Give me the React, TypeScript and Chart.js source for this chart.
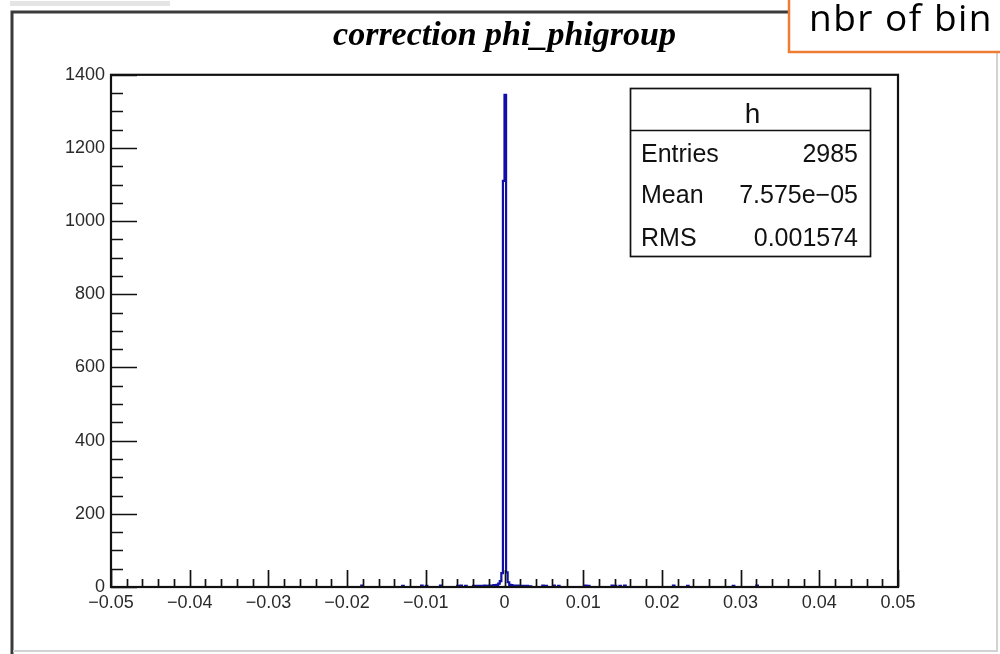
import React, { useEffect, useRef } from "react";
import { Chart, registerables } from "chart.js";

Chart.register(...registerables);

// ---------- data ----------
const chartTitle = "correction phi_phigroup";
const statsName = "h";
const statsLabels = ["Entries", "Mean", "RMS"];
const statsValues = ["2985", "7.575e\u221205", "0.001574"];
const noteText = "nbr of bin";

const binWidth = 0.0002;
const binLowEdges = [
  -0.0182, -0.013, -0.0106, -0.01, -0.0082, -0.006, -0.0056, -0.005,
  -0.004, -0.0038, -0.0036, -0.0034, -0.0032, -0.003, -0.0028, -0.0026, -0.0024, -0.0022,
  -0.002, -0.0018, -0.0016, -0.0014, -0.0012, -0.001, -0.0008, -0.0006, -0.0004, -0.0002,
  0.0, 0.0002, 0.0004, 0.0006, 0.0008, 0.001, 0.0012, 0.0014, 0.0016, 0.0018, 0.002,
  0.0022, 0.0024, 0.0026, 0.0028, 0.003, 0.0032,
  0.0048, 0.0052, 0.0062, 0.0068, 0.0102, 0.0106, 0.0136, 0.014, 0.0146, 0.0152,
  0.0214, 0.0232, 0.029, 0.032,
];
const binCounts = [
  4, 3, 4, 3, 4, 3, 4, 3,
  3, 2, 3, 2, 3, 2, 3, 4, 2, 3,
  4, 3, 4, 5, 5, 6, 9, 16, 38, 1110,
  1345, 40, 13, 6, 5, 4, 4, 3, 4, 3, 3,
  2, 3, 2, 3, 2, 2,
  4, 3, 4, 3, 4, 3, 4, 3, 3, 4,
  4, 3, 3, 4,
];

const xTickValues = [-0.05, -0.04, -0.03, -0.02, -0.01, 0, 0.01, 0.02, 0.03, 0.04, 0.05];
const xTickLabels = ["\u22120.05", "\u22120.04", "\u22120.03", "\u22120.02", "\u22120.01", "0", "0.01", "0.02", "0.03", "0.04", "0.05"];
const yTickValues = [0, 200, 400, 600, 800, 1000, 1200, 1400];
const yTickLabels = ["0", "200", "400", "600", "800", "1000", "1200", "1400"];

const xMinorStep = 0.002;
const yMinorStep = 50;

// ---------- helpers ----------
function histogramPoints() {
  const xMin = xTickValues[0];
  const xMax = xTickValues[xTickValues.length - 1];
  const pts: { x: number; y: number }[] = [{ x: xMin, y: 0 }];
  for (let i = 0; i < binLowEdges.length; i++) {
    const lo = binLowEdges[i];
    const hi = lo + binWidth;
    pts.push({ x: lo, y: binCounts[i] });
    const next = binLowEdges[i + 1];
    if (next === undefined || Math.abs(next - hi) > binWidth / 10) pts.push({ x: hi, y: 0 });
  }
  pts.push({ x: xMax, y: 0 });
  return pts;
}

const SANS = "'Liberation Sans', Arial, Helvetica, sans-serif";

const framePlugin = {
  id: "rootFrame",
  afterDatasetsDraw(chart: any) {
    const { ctx, chartArea: a, scales } = chart;
    const xs = scales.x;
    const ys = scales.y;
    ctx.save();
    ctx.strokeStyle = "#111";
    ctx.lineWidth = 1.7;
    ctx.beginPath();
    const xMin = xTickValues[0];
    const xMax = xTickValues[xTickValues.length - 1];
    const nx = Math.round((xMax - xMin) / xMinorStep);
    for (let k = 0; k <= nx; k++) {
      const v = xMin + k * xMinorStep;
      const px = Math.round(xs.getPixelForValue(v)) + 0.5;
      const len = k % 5 === 0 ? 17 : 8;
      ctx.moveTo(px, a.bottom);
      ctx.lineTo(px, a.bottom - len);
    }
    const yMax = yTickValues[yTickValues.length - 1];
    const ny = Math.round(yMax / yMinorStep);
    for (let k = 0; k <= ny; k++) {
      const v = k * yMinorStep;
      const py = Math.round(ys.getPixelForValue(v)) + 0.5;
      const len = k % 4 === 0 ? 26 : 12;
      ctx.moveTo(a.left, py);
      ctx.lineTo(a.left + len, py);
    }
    ctx.stroke();
    ctx.lineWidth = 2.2;
    ctx.strokeRect(a.left, a.top, a.right - a.left, a.bottom - a.top);
    ctx.restore();
  },
};

const decorPlugin = {
  id: "decor",
  afterDraw(chart: any) {
    const { ctx } = chart;
    ctx.save();
    ctx.fillStyle = "#e4e4e4";
    ctx.fillRect(10, 1, 160, 5);
    ctx.strokeStyle = "#3a3a3a";
    ctx.lineWidth = 3;
    ctx.beginPath();
    ctx.moveTo(12, 654);
    ctx.lineTo(12, 12);
    ctx.lineTo(790, 12);
    ctx.stroke();
    ctx.strokeStyle = "#d2d2d2";
    ctx.lineWidth = 2;
    ctx.beginPath();
    ctx.moveTo(13, 651);
    ctx.lineTo(997, 651);
    ctx.lineTo(997, 50);
    ctx.stroke();

    // orange note box
    ctx.fillStyle = "#ffffff";
    ctx.fillRect(789, -5, 220, 57);
    ctx.strokeStyle = "#ED7D31";
    ctx.lineWidth = 2.5;
    ctx.strokeRect(789, -5, 220, 57);
    ctx.fillStyle = "#000";
    ctx.font = "37px 'Open Sans', 'Noto Sans', sans-serif";
    (ctx as any).letterSpacing = "1.5px";
    ctx.textAlign = "left";
    ctx.textBaseline = "alphabetic";
    ctx.fillText(noteText, 809, 31);
    (ctx as any).letterSpacing = "0px";

    // stats box
    const bx = 630.5, by = 88.5, bw = 240, bh = 168, hy = 130.5;
    ctx.fillStyle = "#fff";
    ctx.fillRect(bx, by, bw, bh);
    ctx.strokeStyle = "#111";
    ctx.lineWidth = 1.7;
    ctx.strokeRect(bx, by, bw, bh);
    ctx.beginPath();
    ctx.moveTo(bx, hy);
    ctx.lineTo(bx + bw, hy);
    ctx.stroke();
    ctx.fillStyle = "#111";
    ctx.font = `28px ${SANS}`;
    ctx.textAlign = "center";
    ctx.fillText(statsName, bx + bw / 2 + 2, 123);
    ctx.font = `25px ${SANS}`;
    const baselines = [162, 203, 246];
    statsLabels.forEach((lab, i) => {
      ctx.textAlign = "left";
      ctx.fillText(lab, 641, baselines[i]);
      ctx.textAlign = "right";
      ctx.fillText(statsValues[i], 858, baselines[i]);
    });
    ctx.restore();
  },
};

export default function App() {
  const canvasRef = useRef<HTMLCanvasElement | null>(null);

  useEffect(() => {
    if (!canvasRef.current) return;
    const chart = new Chart(canvasRef.current, {
      type: "line",
      data: {
        datasets: [
          {
            data: histogramPoints(),
            stepped: "before",
            borderColor: "#1010a8",
            borderWidth: 2.2,
            pointRadius: 0,
            fill: false,
            tension: 0,
          },
        ],
      },
      options: {
        animation: false,
        responsive: false,
        devicePixelRatio: 1,
        layout: { padding: { left: 0, right: 102, top: 0, bottom: 37 } },
        plugins: {
          legend: { display: false },
          tooltip: { enabled: false },
          title: {
            display: true,
            text: chartTitle,
            fullSize: false,
            color: "#000",
            font: {
              family: "'Liberation Serif', 'DejaVu Serif', serif",
              size: 34,
              style: "italic",
              weight: "bold",
              lineHeight: 1.2,
            },
            padding: { top: 16, bottom: 18 },
          },
        },
        scales: {
          x: {
            type: "linear",
            min: xTickValues[0],
            max: xTickValues[xTickValues.length - 1],
            grid: { display: false, drawTicks: false },
            border: { display: false },
            afterBuildTicks: (scale: any) => {
              scale.ticks = xTickValues.map((v) => ({ value: v }));
            },
            afterFit: (scale: any) => {
              scale.height = 30;
            },
            ticks: {
              autoSkip: false,
              maxRotation: 0,
              padding: 5,
              color: "#2a2a2a",
              font: { family: SANS, size: 18 },
              callback: (_v: any, i: number) => xTickLabels[i],
            },
          },
          y: {
            type: "linear",
            min: yTickValues[0],
            max: yTickValues[yTickValues.length - 1],
            grid: { display: false, drawTicks: false },
            border: { display: false },
            afterBuildTicks: (scale: any) => {
              scale.ticks = yTickValues.map((v) => ({ value: v }));
            },
            afterFit: (scale: any) => {
              scale.width = 111;
            },
            ticks: {
              padding: 6,
              color: "#2a2a2a",
              font: { family: SANS, size: 18 },
              callback: (_v: any, i: number) => yTickLabels[i],
            },
          },
        },
      },
      plugins: [framePlugin, decorPlugin],
    });
    return () => chart.destroy();
  }, []);

  return (
    <div style={{ position: "absolute", left: 0, top: 0, width: 1000, height: 654, background: "#fff", overflow: "hidden" }}>
      <canvas ref={canvasRef} width={1000} height={654} style={{ display: "block" }} />
    </div>
  );
}
